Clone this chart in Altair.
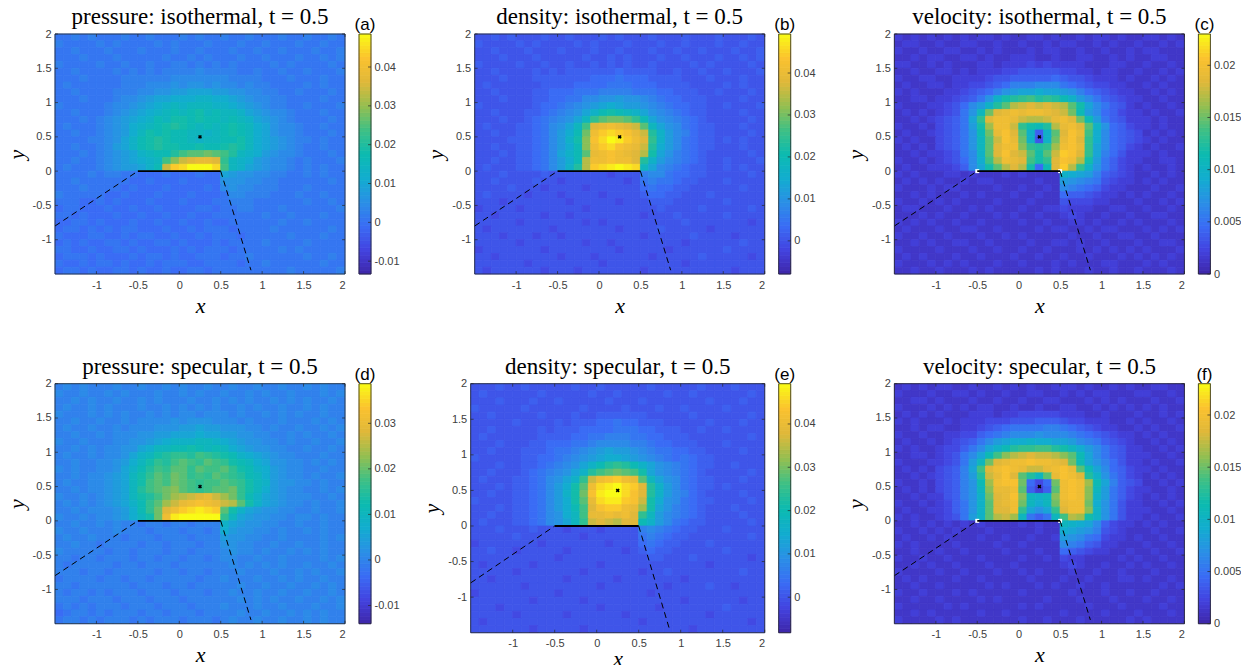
import altair as alt
import pandas as pd
import numpy as np

PARULA = ["#3E26A8","#4343E0","#3A6CF5","#2A90E6","#12ADCF","#0CBBB0","#3FC085","#95BF50","#E0B83A","#FBC22F","#F9FB15"]
TICKS = [-1,-0.5,0,0.5,1,1.5,2]
# Levels, one base-36 character per 0.1 x 0.1 cell (0 = bottom of the colour bar, z = top), top row first.
A=["88989 88898 89888 98988 98898 88988 98898","98888 98988 88989 88898 88988 98889 88988","88988 89888 98889 88988 89889 88988 89889",
"88898 88988 88898 89898 88988 98889 88989","98888 98898 89889 98989 89888 89898 88898","88988 88989 89899 99a99 99889 88988 98889",
"88898 88899 9999a aaaaa a9999 88898 88988","89888 88899 9aaab abbab aa9a9 98888 98988","88988 88999 aabbc cdddc cbbaa 99889 88898",
"88898 889aa bcdde eeffe edcba a9988 88988","98888 89aab cdefg fgggf fedcb a9988 98889","88988 89abc defgh ghigh ggfdc baa98 88988",
"88898 9abcd efhgi ihihh ghgfd cba98 88898","89888 9abce fghij ihghg hihge dbaa9 88988","88988 9abce gihih hggfg hihge dbaa9 88898",
"88889 9abdf hijih hgfgg hhige dcba9 98988","88988 9acdf hijii hhihh ijige dcba9 88988","88898 9abcd fghhj lmmnm ljgfe cbaa9 88898",
"88988 9abcd efglo rstts kgfec baa98 98889","89888 9abcc dfhrw xzzzx lgfdc baa98 98988","88889 89988 77787 77877 dcbba a9988 98988",
"88988 88887 78777 87777 bbbaa 99888 88898","88898 88878 77787 77787 abaa9 99888 98888","98888 87787 77877 78777 8aa99 98889 88988",
"88877 87877 78777 87778 89998 88888 98898","78877 78778 77877 77887 88998 88988 88889","88787 77877 87787 78778 88888 98898 88988",
"77887 87778 77877 87787 78888 88988 98888","78878 78788 77787 78788 87888 89888 88898","87778 87787 88778 77878 88788 88898 88988",
"78787 78878 77887 87778 78888 98888 98888","88778 77887 87778 78788 87888 88989 88888","78887 87778 78878 77888 78898 88888 98898",
"87787 88787 78788 87788 88788 98888 88988","78878 77887 87787 78878 88888 88898 88889"]
B=["55656 55565 56555 65655 56555 65556 55565","65555 65655 55656 55565 55655 65556 55655","55655 56555 65556 55655 56556 55655 56556",
"55565 55655 55565 56565 55655 65556 55656","65555 65565 56556 56565 56555 56565 55565","55655 55656 56666 66766 66556 55655 65556",
"55565 55666 66667 77877 76666 55565 55655","56555 55566 66777 78887 77666 65555 65655","55655 55667 77888 99998 88776 66556 55565",
"55565 55667 788aa bbcbb a9877 66655 55655","65555 55677 89abc dedcc ba987 76655 65556","55655 56678 9abdf hihgf dba98 76655 55655",
"55565 56789 abdgk mnnmk hdba9 87655 55565","56555 6678a bdgls tutsr mgdba 87665 55655","55655 6678a cehnu wxwvt rjfca 97665 55565",
"55556 6678a cfiov xzywu skfca 87665 65655","55655 6678a cehou wxvut rjeca 87665 55655","55565 6678a dfhmt uvuts qidb9 87655 55565",
"55655 6678a cehqu uvuus jfca9 87655 65556","56555 6678a cfjqw xyzyx gda98 76655 65655","55565 55565 55555 54555 9aa87 76655 55565",
"55655 55655 45555 55545 89887 66555 65555","55556 55545 55545 55555 78776 65555 55655","56555 54555 45555 45555 67766 55565 55555",
"55545 55555 54555 55455 56665 55555 65555","45555 45555 55545 55555 55655 55655 55565","55455 55545 54555 55555 45556 55555 65555",
"55555 45555 55545 45555 55555 65555 55545","54555 55554 55555 55455 55655 55545 55555","55545 55455 45555 55555 45555 56555 54555",
"55555 45555 55545 54555 55555 45555 55655","45555 55545 55555 55455 55545 55555 65555","55455 55555 45554 55555 54555 55655 55545",
"55555 54555 55555 45555 55555 45555 55555","54555 55545 55455 55555 45555 55555 54555"]
C=["32323 23232 33232 23323 22323 32322 33232","23322 32233 22322 32232 33223 23223 22323","32232 23322 32322 23233 22322 32232 33222",
"22323 32233 23223 33223 22332 23232 23322","33223 23222 33233 34343 33322 23322 32232","22322 33232 33344 55555 44332 33223 22323",
"32233 22333 34556 66667 65543 33232 23232","23223 32334 45679 99aaa 87654 43322 32322","32322 23345 679bc ddedd cb976 54332 23232",
"22332 33456 8bfij kljkj hfca8 65433 22322","32223 3457a cfjmq rsrsr qmida 86532 32232","23232 3458b gnstu tuuts rnhca 76433 23223",
"22323 4568d ksuut rqqrt usnhc 86533 32322","32232 4568c ipuur kihjq tusmf b7643 32322","23223 4568b hntvs mf6fm svtle a7654 23232",
"32322 4568b gmrvt nf5fn tvske a7654 32322","23232 4568b gmsuu okjkp uvtkd a7643 23223","22323 3458a fmsvs rmimr wvskd 97533 32322",
"32232 3457a elqut sliks vuqic 86433 22332","23223 3346a dimqs qi7hs wqkfb 86432 32232","32322 23323 22232 32222 fedc9 65432 23232",
"23232 32232 33222 22322 cba98 54332 32322","32223 23322 22322 32232 a9876 43322 23223","22323 22232 32223 22322 76654 33232 32232",
"32232 32322 22322 23222 54443 32223 22323","23322 23223 23222 32233 43332 23322 32232","22232 32232 22323 22322 34322 32232 23322",
"32323 22322 32222 32232 23323 22323 22232","23222 32233 22322 22323 32232 33222 32323","32232 23222 32232 32222 23223 22332 23222",
"22323 22332 23222 23223 32322 32223 22332","32222 32223 22322 32232 22323 23232 32223","23232 22322 32223 22322 32232 22323 23232",
"32223 23232 22322 32223 23222 33222 32322","22322 32223 23222 22323 22232 23223 22232"]
D=["9a9a9 99a99 a99a9 a99a9 9a99a 99a99 a9a99","a99a9 9a9a9 99a99 a9a99 a99a9 a99a9 99a9a","99a9a 99a99 a9a99 9a99a 9a9a9 9a9a9 a99a9",
"9a99a 9a999 a99a9 a9a9a 99a9a 99a99 a9a99","a999a 9a9a9 9a9a9 aa9aa a9a99 a9a9a 99a99","99a99 a99a9 aaaab abbba aa9a9 99a99 9a9a9",
"9a99a 99a9a aabbb ccdcc bbbaa 9a99a 99a9a","99a99 a9aaa bbccd ddedd ccbba a99a9 a99a9","a99a9 99aab bcdef ffggf edcbb aa9a9 9a99a",
"99a9a 9aabb deggh hihgh gedcb baa99 a99a9","9a99a 9aabd fgijk kjlkj ihfed cbaa9 99a99","99a99 aabce gikjl mlkml kihge dbbaa 9a9a9",
"a9a99 aabdf hjlkm mkmll mkihf ecbaa 99a99","99a9a abcdg ikmln mklkm lkjhg ecbaa 9a99a","9a99a abcdg ilmln mlkll mlkig fcbba a9a99",
"99a9a abcdg jlmno mlklm mnkig ecbaa 99a9a","a99a9 abcdg ijlnp qrstr pnkhf dcbaa a99a9","9a9a9 abcdf hkmpr tuvut rqmif dcbaa 9a99a",
"99a9a aabce hknsu wxyxw mifdc bbaa9 9a99a","a99a9 aabce ginuy zzzzz kgdcb baa9a a9a99","99a99 a9a99 89989 98999 fdcbb aa99a 99a99",
"a99a9 99a99 98999 89989 ecbba a9a99 a9a99","9a99a 99989 99899 98999 cbbaa 99a99 99a9a","99a99 89999 89989 99899 bbaa9 9a99a 99a99",
"a9999 98998 99989 98999 abaa9 a99a9 a9a99","99899 89998 99899 89989 aa99a 99a99 99a9a","98999 99899 89998 99999 9a9a9 a9a99 a99a9",
"99989 98999 99899 89989 99a99 9a99a 9a99a","89999 89989 98999 99899 a999a 99a9a 99a99","99899 99998 99989 98999 99a99 a99a9 9a9a9",
"98998 98999 89998 99989 9a99a 99a99 a99a9","99989 99899 98999 89999 99a9a 9a99a 99a9a","89898 99989 99899 98999 a999a 99a99 9a99a",
"78998 98999 89989 99899 99a99 a99a9 a9a99","89989 89998 98999 89998 9a99a 99a99 a9a99"]
E=["55565 56555 55655 65555 56555 55655 56555","56555 55565 55556 55655 55565 56555 55565","55565 55655 65555 56555 65555 55565 55655",
"65555 56555 55565 55565 55655 65555 65555","55655 55565 55655 66666 65555 56555 55565","55555 65555 65666 77877 66655 55565 55655",
"55655 55565 66677 77888 77666 55655 65555","56555 55566 66778 89998 87766 65555 55565","55565 55667 77889 aaaa9 98776 66555 65555",
"55655 56667 889ab cdccb a9887 76655 55655","65555 56677 89abc deedc ba987 87665 55555","55565 56678 9abdf hjkjh fdba9 87665 56555",
"55655 56789 abdfj lmnml idba9 87655 55565","56555 6678a bdfkr uvwut mgdba 87665 55655","55565 6678a ceimu xyzxw sjfca 87665 65555",
"55655 6678a cfinv yzzxv sjfca 97655 55655","65555 6678a ceimt xyywv rieba 87665 55565","55565 6678a cehls vwwut pidb9 87655 56555",
"55655 6678a beglt tutus kgca9 87655 55655","56555 6678a bdgkr srqss hfca8 76655 55565","55565 55655 54555 45555 9a987 66555 65555",
"55555 65555 55545 55555 89876 65555 55565","45555 55545 55555 54555 78766 55565 55555","55655 45555 54555 55545 67665 55555 65555",
"55555 55555 45555 55555 56655 56555 55545","54555 55455 55555 45555 55555 55545 55555","55555 45555 55545 55555 45565 55555 55655",
"55455 55555 54555 55455 55555 45555 55555","55555 54555 55555 45555 55545 55565 54555","45555 55555 45555 55555 54555 55555 55555",
"55555 55455 55545 55555 55555 45555 55455","55545 55555 55555 45555 55455 55555 65555","55555 45555 54555 55545 55555 55545 55555",
"54555 55555 55555 55555 45555 55555 55545","55555 55455 55545 55555 55555 54555 55555"]
F=["23232 33223 22323 23223 33232 23232 23322","32223 22332 32232 23322 32323 32223 32232","22332 32223 22322 32233 22232 32322 23223",
"32223 23232 33223 22322 33223 23232 32322","23232 32223 33233 44444 33322 32223 22323","32322 23233 34445 55666 54433 32232 32232",
"22323 32233 45678 88899 87654 33223 23223","32232 23344 6789a aabaa a9876 54332 32322","23223 23456 8acde efeed dca98 65432 23232",
"32322 34468 adfhj kkllj igeca 86533 22323","22332 3458a dhloq rsrrq omhda 86533 32232","32223 3458c gnstu uvuut snhdb 97533 23223",
"23232 4569d lsuvu trrtu vtmhd a7643 32322","22323 4569c jrtvs mjgmt vusjf b8643 23232","32232 4569b hpuvv n747n uvuph d9654 22323",
"23232 4569b gottu m636m uvuog c8643 32232","22323 3569b fnstv ogfgo uvuof c8643 23232","32232 3468b fmstu ngegn tuune b8533 22323",
"23223 3468b fmssu kdbdk suuof b8533 32232","32322 3458c fmqrp g868g lqpif b8533 23223","22323 23232 32222 32322 gfeda 64332 32322",
"32232 32322 23222 22322 edcb9 54322 23223","23223 23222 32232 23223 cba87 43323 22322","32322 22322 22322 32222 a9865 33222 32232",
"22322 32232 22232 22322 76543 32232 23223","32232 23222 32222 32232 43322 22323 22322","22323 22322 23223 22222 34322 32232 32232",
"32222 32232 22322 32322 23223 22322 23222","23232 22322 32222 23222 32232 22332 32232","22322 32222 23232 22323 22322 32222 22323",
"32232 22323 22222 32222 23222 32232 23222","22322 32222 32322 22232 22322 23222 32232","32222 23232 22222 32322 22232 22322 22322",
"22323 22222 32232 22222 32222 32223 22232","32222 32322 22222 32232 22322 22232 32222"]
PANELS=[
 dict(t="pressure: isothermal, t = 0.5",tag="(a)",rows=A,lo=-0.0133,hi=0.0485,ct=[-0.01,0,0.01,0.02,0.03,0.04],v=False),
 dict(t="density: isothermal, t = 0.5",tag="(b)",rows=B,lo=-0.0079,hi=0.0493,ct=[0,0.01,0.02,0.03,0.04],v=False),
 dict(t="velocity: isothermal, t = 0.5",tag="(c)",rows=C,lo=0,hi=0.023,ct=[0,0.005,0.01,0.015,0.02],v=True),
 dict(t="pressure: specular, t = 0.5",tag="(d)",rows=D,lo=-0.014,hi=0.0387,ct=[-0.01,0,0.01,0.02,0.03],v=False),
 dict(t="density: specular, t = 0.5",tag="(e)",rows=E,lo=-0.0082,hi=0.0493,ct=[0,0.01,0.02,0.03,0.04],v=False,h=249,left=4,xpad=0),
 dict(t="velocity: specular, t = 0.5",tag="(f)",rows=F,lo=0,hi=0.023,ct=[0,0.005,0.01,0.015,0.02],v=True),
]
WALL_X=[-0.5,0.5]; WALL_Y=[0,0]
DL_X=[-1.5,-0.5]; DL_Y=[-0.8,0]
DR_X=[0.5,0.865]; DR_Y=[0,-1.445]
SRC_X=[0.25]; SRC_Y=[0.5]
XMIN,XMAX=-1.5,2
SANS="Liberation Sans"; SERIF="Liberation Serif"; GREY="#404040"; FRAME="#262626"

def panel(p):
    W=290; H=p.get("h",240); L=p.get("left",0)
    xs=alt.Scale(domain=[XMIN,XMAX],range=[-L,W],nice=False,zero=False)
    ys=alt.Scale(domain=[XMIN,XMAX],range=[H,0],nice=False,zero=False)
    lo,hi=p["lo"],p["hi"]
    cs=alt.Scale(domain=[float(v) for v in np.linspace(lo,hi,len(PARULA))],range=PARULA,interpolate="rgb")
    cbs=alt.Scale(domain=[lo,hi],range=[H,0],nice=False,zero=False)
    rows=[r.replace(" ","") for r in p["rows"]]; n=len(rows); d=(XMAX-XMIN)/n
    rec=[]
    for i,r in enumerate(rows):
        r=r[:n].ljust(n,r[-1])
        for j,c in enumerate(r):
            rec.append(dict(x=XMIN+j*d,x2=XMIN+(j+1)*d,y=XMAX-(i+1)*d,y2=XMAX-i*d,v=lo+(hi-lo)*int(c,36)/35))
    df=pd.DataFrame(rec)
    xa=alt.Axis(values=TICKS,domain=False,ticks=False,grid=False,labelExpr="''+datum.value",labelFont=SANS,labelFontSize=11,labelColor=GREY,labelPadding=5,
                title="x",titleFont=SERIF,titleFontSize=22,titleFontStyle="italic",titleFontWeight="normal",titleColor="black",titlePadding=p.get("xpad",5))
    ya=alt.Axis(values=TICKS,domain=False,ticks=False,grid=False,labelExpr="''+datum.value",labelFont=SANS,labelFontSize=11,labelColor=GREY,labelPadding=4,offset=L,
                title="y",titleFont=SERIF,titleFontSize=22,titleFontStyle="italic",titleFontWeight="normal",titleColor="black",titlePadding=4)
    X=lambda f:alt.X(f,scale=xs,axis=xa)
    Y=lambda f:alt.Y(f,scale=ys,axis=ya)
    heat=alt.Chart(df).mark_rect(strokeWidth=0.8).encode(
        x=X("x:Q"),x2="x2:Q",y=Y("y:Q"),y2="y2:Q",
        color=alt.Color("v:Q",scale=cs,legend=None),
        stroke=alt.Stroke("v:Q",scale=cs,legend=None))
    layers=[heat]
    if p["v"]:
        layers.append(alt.Chart(pd.DataFrame(dict(x=WALL_X,y=WALL_Y))).mark_square(color="white",size=16,opacity=1).encode(x=X("x:Q"),y=Y("y:Q")))
    layers.append(alt.Chart(pd.DataFrame(dict(x=WALL_X,y=WALL_Y))).mark_line(color="black",strokeWidth=1.8).encode(x=X("x:Q"),y=Y("y:Q")))
    for a,b in ((DL_X,DL_Y),(DR_X,DR_Y)):
        layers.append(alt.Chart(pd.DataFrame(dict(x=a,y=b))).mark_line(color="black",strokeWidth=1,strokeDash=[6,4]).encode(x=X("x:Q"),y=Y("y:Q")))
    layers.append(alt.Chart(pd.DataFrame(dict(x=SRC_X,y=SRC_Y))).mark_point(shape="cross",angle=45,filled=True,color="black",size=16,opacity=1).encode(x=X("x:Q"),y=Y("y:Q")))
    tx=0.035; ty=0.042
    tk=[]
    for t in TICKS:
        tk+= [dict(x=t,x2=t,y=XMIN,y2=XMIN+ty),dict(x=t,x2=t,y=XMAX,y2=XMAX-ty),dict(x=XMIN,x2=XMIN+tx,y=t,y2=t),dict(x=XMAX,x2=XMAX-tx,y=t,y2=t)]
    layers.append(alt.Chart(pd.DataFrame(tk)).mark_rule(color=FRAME,strokeWidth=0.7).encode(x=X("x:Q"),x2="x2:Q",y=Y("y:Q"),y2="y2:Q"))
    layers.append(alt.Chart(pd.DataFrame(dict(a=[XMIN],b=[XMAX],c=[XMIN],e=[XMAX]))).mark_rect(fillOpacity=0,stroke=FRAME,strokeWidth=0.8).encode(x=X("a:Q"),x2="b:Q",y=Y("c:Q"),y2="e:Q"))
    field=alt.layer(*layers)
    edges=np.linspace(lo,hi,65)
    cdf=pd.DataFrame(dict(a=edges[:-1],b=edges[1:],v=(edges[:-1]+edges[1:])/2))
    ca=alt.Axis(values=p["ct"],orient="right",offset=26,domain=False,ticks=False,grid=False,title=None,labelExpr="''+datum.value",labelFont=SANS,labelFontSize=11,labelColor=GREY,labelPadding=3)
    CY=lambda f:alt.Y(f,scale=cbs,axis=ca)
    bar=alt.Chart(cdf).mark_rect(strokeWidth=0.8).encode(x=alt.value(304),x2=alt.value(316),
        y=CY("a:Q"),y2="b:Q",color=alt.Color("v:Q",scale=cs,legend=None),stroke=alt.Stroke("v:Q",scale=cs,legend=None))
    cb_t=alt.Chart(pd.DataFrame(dict(a=p["ct"]))).mark_rule(color=FRAME,strokeWidth=0.7).encode(x=alt.value(313),x2=alt.value(316),y=CY("a:Q"))
    cb_f=alt.Chart(pd.DataFrame(dict(a=[lo],b=[hi]))).mark_rect(fillOpacity=0,stroke=FRAME,strokeWidth=0.8).encode(x=alt.value(304),x2=alt.value(316),y=CY("a:Q"),y2="b:Q")
    tag=alt.Chart(pd.DataFrame(dict(t=[p["tag"]]))).mark_text(font=SANS,fontSize=17,color="black",align="center",baseline="bottom").encode(text="t:N",x=alt.value(310),y=alt.value(0))
    cb=alt.layer(bar,cb_t,cb_f)
    return alt.layer(field,cb,tag).resolve_scale(y="independent").properties(width=W,height=H,
        title=alt.TitleParams(p["t"],font=SERIF,fontSize=23,fontWeight="normal",color="black",offset=-13,dx=-L/2))

chart=alt.concat(*[panel(p) for p in PANELS],columns=3,bounds="flush",spacing={"row":109.7,"column":129.7}).resolve_scale(color="independent",stroke="independent").properties(
    padding={"left":-3,"top":-2,"right":0,"bottom":0}).configure_view(stroke=None)
chart.save("out.html",embed_options={"renderer":"svg","actions":False})
